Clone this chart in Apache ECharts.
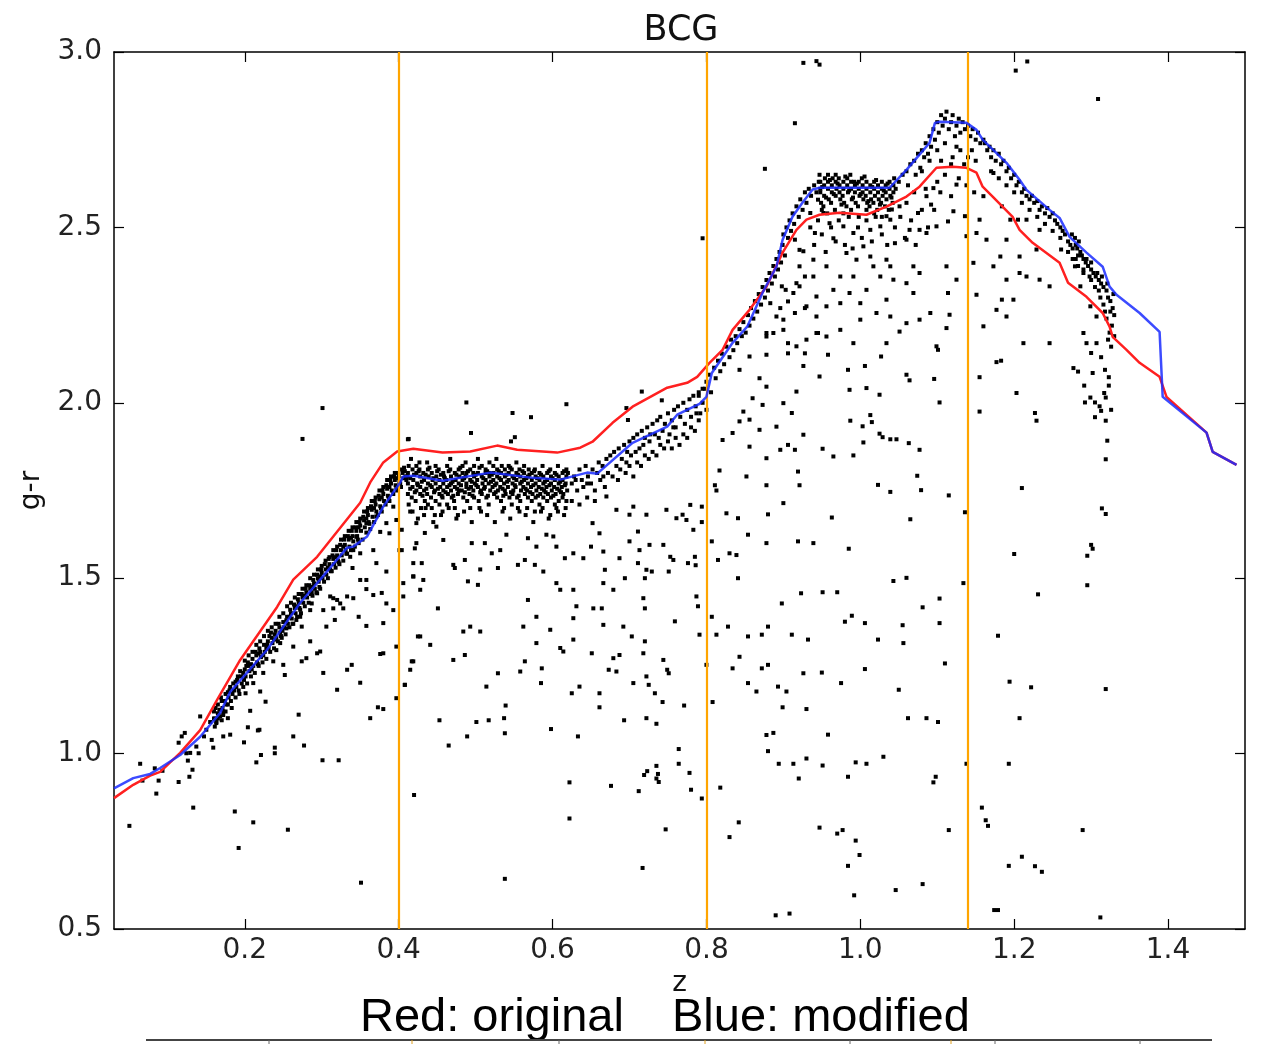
<!DOCTYPE html>
<html><head><meta charset="utf-8">
<script src="https://cdn.jsdelivr.net/npm/echarts@6/dist/echarts.min.js"></script>
<style>html,body{margin:0;padding:0;background:#fff}#c{width:1263px;height:1044px}</style>
</head><body><div id="c"></div>
<script>
const xTicks=[0.2,0.4,0.6,0.8,1.0,1.2,1.4];
const vLines=[0.4,0.8,1.14];
const redZ=[0.030,0.055,0.077,0.090,0.116,0.142,0.164,0.194,0.242,0.263,0.294,0.315,0.350,0.363,0.380,0.398,0.419,0.457,0.493,0.528,0.554,0.606,0.636,0.652,0.678,0.704,0.749,0.775,0.788,0.804,0.821,0.834,0.856,0.878,0.899,0.917,0.930,0.947,0.973,1.008,1.034,1.060,1.077,1.099,1.120,1.138,1.151,1.159,1.172,1.198,1.207,1.224,1.259,1.270,1.294,1.315,1.324,1.328,1.346,1.363,1.389,1.398,1.450,1.458,1.489];
const redGR=[0.873,0.911,0.937,0.948,1.002,1.067,1.153,1.267,1.418,1.496,1.561,1.619,1.715,1.773,1.830,1.861,1.869,1.858,1.861,1.878,1.866,1.858,1.872,1.889,1.943,1.989,2.043,2.057,2.074,2.114,2.151,2.208,2.265,2.331,2.428,2.493,2.522,2.536,2.542,2.536,2.559,2.588,2.616,2.670,2.673,2.670,2.656,2.616,2.588,2.530,2.493,2.456,2.399,2.342,2.302,2.256,2.217,2.188,2.151,2.114,2.074,2.017,1.915,1.860,1.823];
const blueZ=[0.030,0.055,0.077,0.090,0.116,0.142,0.168,0.181,0.229,0.272,0.298,0.333,0.341,0.359,0.380,0.402,0.406,0.419,0.457,0.519,0.574,0.610,0.645,0.658,0.704,0.749,0.762,0.791,0.800,0.807,0.834,0.853,0.873,0.891,0.899,0.912,0.925,0.938,0.947,1.038,1.060,1.090,1.097,1.103,1.138,1.151,1.159,1.190,1.207,1.216,1.246,1.259,1.272,1.294,1.315,1.324,1.333,1.363,1.389,1.393,1.450,1.458,1.489];
const blueGR=[0.901,0.930,0.942,0.959,0.996,1.048,1.116,1.176,1.296,1.430,1.496,1.587,1.590,1.619,1.704,1.773,1.790,1.792,1.778,1.801,1.786,1.781,1.801,1.798,1.886,1.932,1.966,1.997,2.017,2.085,2.171,2.217,2.314,2.388,2.465,2.531,2.571,2.608,2.613,2.613,2.664,2.741,2.798,2.801,2.798,2.778,2.750,2.684,2.636,2.607,2.550,2.527,2.473,2.428,2.388,2.331,2.308,2.256,2.202,2.017,1.915,1.860,1.823];

const sparseLeft=[0.050,0.794,0.064,0.971,0.067,0.923,0.083,0.958,0.085,0.886,0.088,0.923,0.093,0.951,0.114,1.031,0.114,0.919,0.118,1.049,0.122,1.059,0.124,1.001,0.126,0.980,0.128,0.934,0.129,1.002,0.132,0.954,0.133,0.846,0.137,1.020,0.140,1.001,0.142,1.106,0.147,1.049,0.150,1.068,0.157,1.039,0.159,1.017,0.161,1.077,0.163,1.087,0.168,1.106,0.172,1.049,0.178,1.101,0.181,1.054,0.187,0.835,0.192,0.731,0.199,1.032,0.204,1.075,0.207,1.122,0.211,0.804,0.215,0.975,0.217,1.066,0.219,1.068,0.221,0.996,0.227,1.148,0.239,1.017,0.239,1.001,0.256,0.783,0.263,1.049,0.270,1.111,0.277,1.023,0.301,0.981,0.322,0.981,0.351,0.632,0.363,1.101,0.373,1.132,0.380,1.127,0.420,0.882,0.155,1.090,0.160,1.100,0.165,1.115,0.170,1.095,0.175,1.120,
0.301,1.985,0.275,1.897,0.413,1.897,0.358,1.364,0.397,1.305,0.384,1.519,0.371,1.543,0.378,1.458,0.358,1.469,0.341,1.443,0.333,1.448,0.320,1.438,0.315,1.443,0.328,1.414,0.315,1.414,0.302,1.409,0.311,1.448,0.340,1.529,0.350,1.495,0.348,1.390,0.358,1.495,0.367,1.452,0.401,1.580,0.397,1.666,0.388,1.628,0.384,1.657,0.393,1.704,0.419,1.543,0.423,1.600,0.423,1.657,0.419,1.505,0.425,1.334,0.419,1.263,0.415,1.239,0.408,1.196,0.397,1.158,0.380,1.286,0.376,1.284,0.350,1.202,0.333,1.239,0.339,1.253,0.320,1.182,0.302,1.230,0.298,1.291,0.294,1.286,0.285,1.320,0.280,1.272,0.274,1.263,0.263,1.305,0.250,1.253,0.252,1.224,0.241,1.295,0.246,1.315,0.237,1.263,0.224,1.230,0.220,1.177,0.211,1.201,0.201,1.172,0.254,1.357,0.267,1.381,0.272,1.390,0.285,1.409,0.287,1.428,0.294,1.457,0.274,1.362,0.306,1.362,0.317,1.381,0.324,1.428,0.341,1.580,0.350,1.571,0.367,1.580,0.376,1.632,0.371,1.676,0.358,1.657,0.345,1.618,0.337,1.561,0.380,1.372,0.393,1.409,0.384,1.428,0.406,1.486];

const bandLow=[0.160,1.12,0.161,1.10,0.162,1.13,0.163,1.09,0.165,1.14,0.166,1.11,0.167,1.125,0.170,1.15,0.171,1.13,0.172,1.12,0.169,1.16,0.175,1.17,0.176,1.14,0.174,1.15,0.180,1.18,0.179,1.16,0.181,1.19,0.182,1.15,0.185,1.20,0.186,1.18,0.184,1.17,0.190,1.21,0.189,1.19,0.191,1.22,0.192,1.18,0.195,1.22,0.196,1.20,0.194,1.235,0.200,1.24,0.201,1.22,0.199,1.21,0.202,1.25,0.205,1.25,0.206,1.235,0.204,1.26,0.210,1.27,0.211,1.25,0.209,1.24,0.215,1.28,0.216,1.26,0.214,1.29,0.217,1.255,0.220,1.29,0.221,1.275,0.219,1.30,0.225,1.31,0.226,1.29,0.224,1.28,0.230,1.32,0.231,1.30,0.229,1.31,0.232,1.335,0.235,1.33,0.236,1.315,0.234,1.345,0.240,1.35,0.241,1.33,0.239,1.34,0.245,1.36,0.246,1.345,0.244,1.37,0.247,1.335,0.250,1.375,0.251,1.36,0.249,1.35,0.255,1.39,0.256,1.37,0.254,1.38,0.260,1.40,0.261,1.385,0.259,1.41,0.262,1.37,0.265,1.415,0.266,1.40,0.264,1.425,0.270,1.43,0.271,1.415,0.269,1.44,0.272,1.41,0.275,1.445,0.276,1.43,0.274,1.455,0.280,1.46,0.281,1.445,0.279,1.47,0.285,1.47,0.286,1.455,0.284,1.48,0.287,1.46,0.290,1.485,0.291,1.47,0.289,1.495,0.295,1.50,0.296,1.49,0.294,1.51,0.297,1.475,0.300,1.515,0.301,1.50,0.299,1.525,0.305,1.525,0.306,1.51,0.304,1.54,0.310,1.54,0.311,1.525,0.309,1.555,0.312,1.52,0.315,1.555,0.316,1.54,0.314,1.565,0.320,1.565,0.321,1.55,0.319,1.58,0.322,1.545,0.325,1.58,0.326,1.565,0.324,1.595,0.330,1.595,0.331,1.58,0.329,1.61,0.332,1.57,0.335,1.61,0.336,1.59,0.334,1.62,0.340,1.62,0.341,1.605,0.339,1.635,0.345,1.635,0.346,1.62,0.344,1.645,0.347,1.61,0.350,1.65,0.351,1.635,0.349,1.66,0.355,1.665,0.356,1.645,0.354,1.675,0.360,1.68,0.361,1.66,0.359,1.69,0.362,1.655,0.365,1.695,0.366,1.675,0.364,1.705,0.370,1.71,0.371,1.69,0.369,1.72,0.375,1.725,0.376,1.705,0.374,1.735,0.377,1.70,0.380,1.74,0.381,1.72,0.379,1.75,0.385,1.755,0.386,1.735,0.384,1.765,0.387,1.73,0.390,1.77,0.391,1.75,0.389,1.78,0.395,1.78,0.396,1.765,0.394,1.79,0.397,1.76,0.400,1.79,0.401,1.775,0.399,1.80,0.402,1.77,0.405,1.80,0.406,1.785,0.404,1.81,0.408,1.805,0.409,1.79,0.407,1.815,0.410,1.78,
0.178,1.175,0.188,1.205,0.198,1.23,0.208,1.255,0.218,1.285,0.228,1.30,0.238,1.325,0.248,1.355,0.258,1.39,0.268,1.42,0.278,1.45,0.288,1.475,0.298,1.505,0.308,1.53,0.318,1.56,0.328,1.59,0.338,1.615,0.348,1.645,0.358,1.67,0.368,1.70,0.378,1.73,0.388,1.76,0.398,1.785];

const bandLow2=[0.165,1.10,0.172,1.11,0.178,1.14,0.183,1.13,0.188,1.16,0.193,1.17,0.198,1.19,0.203,1.20,0.208,1.22,0.213,1.23,0.218,1.25,0.223,1.26,0.228,1.27,0.233,1.29,0.238,1.30,0.243,1.32,0.248,1.33,0.253,1.34,0.258,1.36,0.263,1.37,0.268,1.39,0.273,1.40,0.278,1.42,0.283,1.43,0.288,1.45,0.293,1.46,0.298,1.47,0.303,1.49,0.308,1.50,0.313,1.52,0.318,1.53,0.323,1.54,0.328,1.55,0.333,1.57,0.338,1.58,0.343,1.59,0.348,1.60,0.353,1.61,0.358,1.63,0.363,1.64,0.368,1.66,0.373,1.68,0.378,1.69,0.383,1.71,0.388,1.72,0.393,1.74,0.398,1.75,0.403,1.76,
0.200,1.265,0.210,1.29,0.220,1.32,0.230,1.35,0.240,1.37,0.250,1.40,0.260,1.43,0.270,1.455,0.280,1.48,0.290,1.51,0.300,1.535,0.310,1.56,0.320,1.59,0.330,1.62,0.340,1.645,0.350,1.67,0.360,1.70,0.370,1.73,0.380,1.76,0.390,1.79,0.395,1.80,0.385,1.78,0.375,1.75,0.365,1.72,0.355,1.69,0.345,1.66,0.335,1.635,0.325,1.61,0.315,1.58,0.305,1.55,0.295,1.525,0.285,1.50,0.275,1.47,0.265,1.445,0.255,1.42,0.245,1.39,0.235,1.36,0.225,1.335,0.215,1.31,0.205,1.28];

const bandMid=[0.412,1.80,0.412,1.77,0.412,1.74,0.413,1.82,0.413,1.71,0.411,1.79,0.418,1.81,0.418,1.76,0.417,1.73,0.419,1.78,0.418,1.69,0.416,1.84,0.423,1.80,0.423,1.75,0.424,1.77,0.422,1.72,0.423,1.82,0.428,1.79,0.428,1.74,0.427,1.81,0.429,1.70,0.428,1.76,0.427,1.83,0.433,1.78,0.433,1.75,0.432,1.80,0.434,1.72,0.433,1.68,0.438,1.81,0.438,1.77,0.437,1.74,0.439,1.79,0.438,1.71,0.437,1.83,0.443,1.76,0.443,1.80,0.442,1.73,0.444,1.78,0.443,1.70,0.448,1.82,0.448,1.77,0.447,1.75,0.449,1.79,0.448,1.72,0.447,1.68,0.453,1.78,0.453,1.74,0.452,1.81,0.454,1.76,0.453,1.71,0.458,1.80,0.458,1.77,0.457,1.73,0.459,1.79,0.458,1.75,0.457,1.69,0.463,1.82,0.463,1.76,0.462,1.78,0.464,1.74,0.463,1.71,0.468,1.79,0.468,1.75,0.467,1.81,0.469,1.73,0.468,1.77,0.467,1.84,0.473,1.80,0.473,1.76,0.472,1.72,0.474,1.78,0.473,1.70,0.478,1.81,0.478,1.77,0.477,1.74,0.479,1.79,0.478,1.75,0.477,1.68,0.483,1.78,0.483,1.82,0.482,1.75,0.484,1.73,0.483,1.80,0.488,1.80,0.488,1.76,0.487,1.79,0.489,1.72,0.488,1.77,0.487,1.83,0.493,1.81,0.493,1.78,0.492,1.74,0.494,1.76,0.493,1.70,0.498,1.79,0.498,1.82,0.497,1.75,0.499,1.77,0.498,1.73,0.497,1.80,0.503,1.80,0.503,1.76,0.502,1.78,0.504,1.72,0.503,1.84,0.508,1.82,0.508,1.79,0.507,1.75,0.509,1.77,0.508,1.74,0.507,1.69,0.513,1.81,0.513,1.78,0.512,1.76,0.514,1.73,0.513,1.80,0.518,1.80,0.518,1.83,0.517,1.77,0.519,1.75,0.518,1.79,0.517,1.71,0.523,1.82,0.523,1.78,0.522,1.76,0.524,1.74,0.523,1.80,0.528,1.81,0.528,1.79,0.527,1.77,0.529,1.75,0.528,1.73,0.527,1.84,0.533,1.80,0.533,1.78,0.532,1.76,0.534,1.82,0.533,1.72,0.538,1.79,0.538,1.81,0.537,1.77,0.539,1.74,0.538,1.75,0.537,1.70,0.543,1.80,0.543,1.78,0.542,1.76,0.544,1.73,0.543,1.82,0.548,1.79,0.548,1.77,0.547,1.81,0.549,1.75,0.548,1.74,0.547,1.71,0.553,1.80,0.553,1.78,0.552,1.76,0.554,1.73,0.553,1.83,0.558,1.79,0.558,1.77,0.557,1.81,0.559,1.75,0.558,1.72,0.557,1.69,0.563,1.78,0.563,1.80,0.562,1.76,0.564,1.74,0.563,1.82,0.568,1.79,0.568,1.77,0.567,1.75,0.569,1.81,0.568,1.73,0.567,1.70,0.573,1.80,0.573,1.78,0.572,1.76,0.574,1.74,0.573,1.72,0.578,1.79,0.578,1.77,0.577,1.81,0.579,1.75,0.578,1.73,0.577,1.69,0.583,1.78,0.583,1.80,0.582,1.76,0.584,1.74,0.583,1.71,0.588,1.79,0.588,1.77,0.587,1.82,0.589,1.75,0.588,1.73,0.587,1.70,0.593,1.78,0.593,1.80,0.592,1.76,0.594,1.74,0.593,1.72,0.598,1.79,0.598,1.77,0.597,1.81,0.599,1.75,0.598,1.73,0.597,1.68,0.603,1.78,0.603,1.80,0.602,1.76,0.604,1.74,0.603,1.71,0.608,1.79,0.608,1.77,0.607,1.82,0.609,1.75,0.608,1.72,0.607,1.69,0.613,1.78,0.613,1.80,0.612,1.76,0.614,1.74,0.613,1.73,0.618,1.79,0.618,1.81,0.617,1.77,0.619,1.75,0.618,1.72,0.617,1.70];

const bandMid2=[0.415,1.785,0.415,1.755,0.420,1.795,0.421,1.745,0.425,1.765,0.426,1.805,0.430,1.775,0.431,1.735,0.435,1.795,0.436,1.755,0.440,1.815,0.441,1.765,0.445,1.785,0.446,1.745,0.450,1.805,0.451,1.755,0.455,1.795,0.456,1.735,0.460,1.785,0.461,1.745,0.465,1.805,0.466,1.765,0.470,1.775,0.471,1.735,0.475,1.795,0.476,1.755,0.480,1.815,0.481,1.765,0.485,1.785,0.486,1.745,0.490,1.805,0.491,1.755,0.495,1.775,0.496,1.735,0.500,1.795,0.501,1.765,0.505,1.815,0.506,1.745,0.510,1.785,0.511,1.755,0.515,1.805,0.516,1.735,0.520,1.775,0.521,1.795,0.525,1.765,0.526,1.745,0.530,1.805,0.531,1.785,0.535,1.755,0.536,1.735,0.540,1.795,0.541,1.775,0.545,1.815,0.546,1.745,0.550,1.785,0.551,1.765,0.555,1.795,0.556,1.735,0.560,1.775,0.561,1.805,0.565,1.755,0.566,1.785,0.570,1.795,0.571,1.745,0.575,1.765,0.576,1.805,0.580,1.785,0.581,1.735,0.585,1.795,0.586,1.755,0.590,1.775,0.591,1.745,0.595,1.805,0.596,1.765,0.600,1.785,0.601,1.735,0.605,1.795,0.606,1.755,0.610,1.775,0.611,1.745,0.615,1.805,0.616,1.765,
0.415,1.69,0.425,1.67,0.435,1.70,0.445,1.66,0.455,1.68,0.465,1.70,0.475,1.67,0.485,1.69,0.495,1.66,0.505,1.70,0.515,1.68,0.525,1.66,0.535,1.69,0.545,1.67,0.555,1.70,0.565,1.68,0.575,1.66,0.585,1.69,0.595,1.67,0.605,1.70,0.615,1.68,0.625,1.72,0.635,1.71,0.645,1.73,0.655,1.72];

const bandRise=[0.620,1.80,0.625,1.77,0.628,1.79,0.632,1.75,0.635,1.81,0.638,1.78,0.640,1.76,0.643,1.82,0.646,1.79,0.650,1.77,0.652,1.81,0.655,1.75,0.658,1.80,0.660,1.83,0.662,1.78,0.665,1.82,0.668,1.76,0.670,1.84,0.672,1.80,0.675,1.85,0.678,1.79,0.680,1.86,0.683,1.82,0.686,1.87,0.688,1.81,0.690,1.84,0.693,1.88,0.696,1.83,0.700,1.89,0.702,1.85,0.705,1.90,0.708,1.86,0.710,1.91,0.713,1.87,0.716,1.92,0.718,1.88,0.720,1.90,0.723,1.93,0.726,1.89,0.730,1.94,0.733,1.91,0.736,1.95,0.738,1.90,0.740,1.96,0.743,1.92,0.746,1.94,0.750,1.97,0.752,1.91,0.755,1.95,0.758,1.98,0.760,1.93,0.763,1.99,0.766,1.96,0.770,2.00,0.772,1.94,0.775,1.98,0.778,2.01,0.780,1.96,0.783,2.02,0.786,1.99,0.790,2.03,0.792,1.97,0.795,2.00,0.798,2.04,0.800,1.98,0.700,1.82,0.710,1.83,0.720,1.85,0.730,1.86,0.740,1.88,0.750,1.89,0.760,1.90,0.770,1.91,0.780,1.93,0.790,1.95,0.685,1.78,0.695,1.80,0.705,1.79,0.715,1.82,0.725,1.84,0.735,1.85,0.745,1.87,0.755,1.87,0.765,1.88,0.775,1.90,0.785,1.92,0.630,1.78,0.645,1.77,0.666,1.79,0.697,1.86,0.727,1.91,0.757,1.93,0.787,1.97,
0.790,2.02,0.795,2.04,0.800,2.06,0.803,2.08,0.806,2.03,0.810,2.10,0.812,2.07,0.815,2.12,0.818,2.09,0.820,2.14,0.823,2.11,0.826,2.16,0.830,2.13,0.832,2.18,0.835,2.15,0.838,2.19,0.840,2.17,0.843,2.21,0.846,2.19,0.848,2.23,0.851,2.20,0.854,2.25,0.856,2.22,0.858,2.27,0.861,2.24,0.863,2.29,0.866,2.26,0.868,2.31,0.871,2.28,0.873,2.33,0.876,2.30,0.878,2.35,0.880,2.32,0.882,2.37,0.885,2.34,0.887,2.39,0.889,2.36,0.891,2.41,0.893,2.38,0.895,2.43,0.897,2.40,0.899,2.45,0.900,2.48,0.902,2.42,0.904,2.50,0.906,2.47,0.908,2.52,0.910,2.49,0.912,2.54,0.914,2.51,0.917,2.56,0.920,2.53,0.922,2.58,0.925,2.55,0.928,2.60,0.930,2.57,0.933,2.61,0.936,2.59,0.940,2.62,0.943,2.60,0.946,2.63,0.948,2.61];

const bandTop=[0.948,2.63,0.948,2.60,0.949,2.57,0.947,2.65,0.950,2.55,0.953,2.62,0.953,2.59,0.954,2.64,0.952,2.56,0.958,2.63,0.958,2.61,0.959,2.58,0.957,2.54,0.958,2.65,0.963,2.62,0.963,2.60,0.964,2.64,0.962,2.57,0.968,2.63,0.968,2.59,0.969,2.61,0.967,2.55,0.968,2.65,0.973,2.62,0.973,2.60,0.974,2.58,0.972,2.64,0.978,2.63,0.978,2.61,0.979,2.57,0.977,2.59,0.978,2.54,0.983,2.62,0.983,2.64,0.984,2.60,0.982,2.56,0.988,2.63,0.988,2.61,0.989,2.58,0.987,2.65,0.988,2.55,0.993,2.62,0.993,2.60,0.994,2.57,0.992,2.63,0.998,2.61,0.998,2.63,0.999,2.59,0.997,2.56,0.998,2.53,1.003,2.62,1.003,2.60,1.004,2.58,1.002,2.64,1.008,2.63,1.008,2.61,1.009,2.57,1.007,2.59,1.008,2.55,1.013,2.62,1.013,2.60,1.014,2.58,1.012,2.56,1.018,2.61,1.018,2.63,1.019,2.59,1.017,2.57,1.018,2.54,1.023,2.62,1.023,2.60,1.024,2.58,1.022,2.55,1.028,2.61,1.028,2.63,1.029,2.59,1.027,2.57,1.028,2.53,1.033,2.62,1.033,2.60,1.034,2.58,1.032,2.56,1.038,2.61,1.038,2.63,1.039,2.59,1.037,2.55,1.043,2.62,1.043,2.60,1.044,2.64,1.042,2.57,
0.9505,2.615,0.9555,2.585,0.9605,2.635,0.9655,2.595,0.9705,2.625,0.9755,2.565,0.9805,2.645,0.9855,2.605,0.9905,2.585,0.9955,2.625,1.0005,2.595,1.0055,2.645,1.0105,2.575,1.0155,2.615,1.0205,2.635,1.0255,2.565,1.0305,2.605,1.0355,2.625,1.0405,2.585,1.046,2.61,
1.050,2.63,1.055,2.65,1.060,2.66,1.062,2.62,1.065,2.68,1.070,2.69,1.072,2.65,1.075,2.71,1.078,2.67,1.080,2.72,1.083,2.70,1.085,2.74,1.088,2.71,1.090,2.76,1.092,2.73,1.095,2.78,1.097,2.75,1.100,2.80,1.102,2.77,1.105,2.82,1.107,2.79,1.110,2.81,1.112,2.83,1.115,2.78,1.118,2.80,1.120,2.82,1.123,2.76,1.125,2.79,1.128,2.81,1.130,2.77,1.133,2.80,1.136,2.78,1.140,2.79,1.143,2.76,1.146,2.78,1.150,2.75,1.153,2.77,1.156,2.74,1.160,2.75,1.100,2.72,1.110,2.74,1.120,2.70,1.130,2.72,1.140,2.70,1.150,2.69,1.105,2.69,1.125,2.73,1.135,2.68,1.145,2.72,1.090,2.69,1.080,2.66];

const bandTop2=[0.935,2.50,0.940,2.45,0.945,2.52,0.950,2.48,0.955,2.43,0.962,2.50,0.968,2.46,0.972,2.52,0.980,2.45,0.985,2.53,0.990,2.44,0.997,2.50,1.002,2.47,1.008,2.52,1.015,2.46,1.020,2.53,1.028,2.48,1.035,2.45,1.045,2.50,1.052,2.53,1.058,2.47,1.066,2.52,1.072,2.45,1.080,2.55,1.088,2.50,1.096,2.55,1.104,2.60,1.110,2.65,1.118,2.68,1.128,2.64,1.138,2.62,1.148,2.60,1.100,2.63,1.085,2.61,1.070,2.60];

const bandFall=[1.162,2.74,1.165,2.72,1.168,2.73,1.170,2.70,1.173,2.72,1.176,2.69,1.180,2.71,1.183,2.68,1.186,2.69,1.190,2.66,1.193,2.67,1.196,2.64,1.200,2.65,1.203,2.62,1.206,2.63,1.210,2.60,1.213,2.61,1.216,2.59,1.220,2.58,1.223,2.59,1.226,2.57,1.230,2.575,1.233,2.55,1.236,2.56,1.240,2.54,1.243,2.555,1.246,2.53,1.250,2.54,1.253,2.52,1.256,2.51,1.260,2.50,1.263,2.49,1.266,2.48,1.270,2.46,1.273,2.45,1.276,2.44,1.280,2.45,1.283,2.42,1.286,2.43,1.290,2.41,1.293,2.40,1.296,2.39,1.300,2.38,1.303,2.37,1.306,2.36,1.310,2.35,1.313,2.34,1.316,2.33,1.320,2.32,1.322,2.30,1.325,2.29,1.328,2.27,1.330,2.25,1.327,2.22,1.324,2.20,1.322,2.18,1.326,2.16,1.320,2.24,1.318,2.26,1.316,2.28,1.312,2.30,1.305,2.33,1.298,2.36,1.290,2.37,1.283,2.39,1.276,2.41,1.284,2.46,1.279,2.47,1.275,2.48,1.282,2.44,1.288,2.42,1.294,2.41,1.300,2.40,1.308,2.37,1.314,2.36,1.321,2.34,1.329,2.31,1.325,2.26,1.330,2.19,
1.170,2.66,1.180,2.64,1.190,2.62,1.200,2.60,1.210,2.57,1.220,2.55,1.230,2.53,1.240,2.51,1.250,2.49,1.260,2.47,1.270,2.43,1.280,2.41,1.290,2.38,1.300,2.35,1.310,2.32];

const sparseMid=[0.488,2.001,0.618,1.996,0.548,1.971,0.572,1.959,0.412,1.896,0.494,1.914,0.551,1.902,0.546,1.890,0.716,2.032,0.696,1.985,0.742,2.007,0.698,1.951,0.917,2.032,0.878,2.046,0.926,2.105,0.928,2.141,0.906,2.141,0.878,2.137,0.856,2.132,0.869,2.070,0.843,2.094,0.860,2.013,0.873,1.994,0.900,1.999,0.911,1.971,0.869,1.923,0.848,1.975,0.843,1.947,0.856,1.952,0.891,1.932,0.834,1.914,0.821,1.894,0.856,1.875,0.852,1.790,0.878,1.842,0.896,1.866,0.906,1.880,0.915,1.866,0.926,1.909,0.919,1.804,0.921,1.765,0.878,1.765,0.880,1.682,0.900,1.714,0.939,1.600,0.919,1.605,0.878,1.600,0.854,1.624,0.841,1.500,0.830,1.571,0.815,1.552,0.807,1.605,0.811,1.765,0.813,1.750,0.817,1.807,0.826,1.685,0.841,1.671,0.839,1.566,0.923,1.457,0.898,1.428,0.880,1.362,0.872,1.339,0.854,1.334,0.911,1.339,0.932,1.325,0.880,1.253,0.872,1.243,0.926,1.229,0.904,1.177,0.893,1.191,0.854,1.201,0.865,1.177,0.843,1.276,0.834,1.243,0.828,1.362,0.813,1.339,0.807,1.390,0.800,1.253,0.791,1.339,0.789,1.420,0.787,1.448,0.786,1.537,0.776,1.543,0.759,1.377,0.757,1.552,0.751,1.519,0.744,1.267,0.749,1.239,0.751,1.229,0.733,1.172,0.722,1.220,0.718,1.286,0.720,1.320,0.729,1.519,0.722,1.524,0.720,1.500,0.718,1.443,0.720,1.414,0.711,1.543,0.713,1.580,0.700,1.605,0.711,1.633,0.726,1.595,0.744,1.595,0.753,1.561,0.785,1.561,0.783,1.638,0.779,1.709,0.794,1.660,0.794,1.704,0.774,1.666,0.769,1.681,0.761,1.671,0.748,1.695,0.722,1.681,0.700,1.681,0.705,1.704,0.683,1.695,0.670,1.733,0.661,1.628,0.650,1.590,0.652,1.657,0.666,1.576,0.640,1.557,0.627,1.571,0.616,1.557,0.605,1.590,0.601,1.619,0.592,1.624,0.579,1.590,0.568,1.614,0.564,1.552,0.577,1.538,0.555,1.538,0.540,1.624,0.532,1.580,0.521,1.571,0.506,1.525,0.495,1.600,0.486,1.552,0.471,1.538,0.473,1.529,0.458,1.609,0.449,1.647,0.434,1.629,0.430,1.543,0.419,1.505,0.432,1.495,0.428,1.467,0.404,1.638,0.404,1.580,0.421,1.585,0.406,1.448,0.451,1.414,0.490,1.491,0.503,1.481,0.529,1.529,0.512,1.600,0.588,1.519,0.605,1.486,0.610,1.467,0.627,1.467,0.631,1.420,0.627,1.386,0.653,1.414,0.664,1.414,0.666,1.367,0.666,1.486,0.668,1.524,0.687,1.557,0.694,1.500,0.679,1.467,0.692,1.362,0.703,1.334,0.687,1.281,0.679,1.272,0.673,1.239,0.683,1.234,0.705,1.201,0.725,1.196,0.661,1.172,0.651,1.286,0.635,1.191,0.625,1.172,0.614,1.291,0.610,1.301,0.627,1.325,0.597,1.353,0.579,1.390,0.568,1.438,0.564,1.263,0.558,1.234,0.586,1.243,0.585,1.201,0.579,1.315,0.562,1.362,0.529,1.229,0.514,1.191,0.506,1.348,0.493,1.362,0.484,1.348,0.471,1.267,0.486,1.281,0.441,1.310,0.428,1.334,0.417,1.263,0.408,1.196];

const sparseLow=[0.539,1.137,0.453,1.095,0.465,1.023,0.489,1.049,0.501,1.090,0.517,1.095,0.537,1.101,0.538,1.058,0.598,1.070,0.633,1.049,0.661,1.132,0.693,1.095,0.722,1.101,0.735,1.085,0.743,1.147,0.771,1.137,0.764,1.013,0.764,0.971,0.778,0.945,0.780,0.897,0.794,0.872,0.735,0.965,0.723,0.950,0.719,0.939,0.737,0.942,0.735,0.929,0.738,0.919,0.712,0.893,0.676,0.908,0.622,0.918,0.622,0.815,0.747,0.784,0.717,0.674,0.538,0.643,0.818,0.903,0.842,0.804,0.830,0.762,0.878,1.053,0.887,1.059,0.880,1.007,0.894,0.971,0.913,0.971,0.930,0.986,0.920,0.929,0.899,1.132,0.930,1.127,0.808,1.147,0.890,0.539,0.908,0.544,
1.062,1.101,1.086,1.101,1.101,1.090,1.207,1.101,0.958,1.054,0.951,0.966,0.994,0.975,1.008,0.971,1.030,0.991,0.984,0.934,1.095,0.918,1.098,0.934,1.138,0.971,1.193,0.971,1.158,0.846,1.163,0.810,1.166,0.794,1.289,0.782,1.115,0.782,0.947,0.789,0.970,0.772,0.977,0.782,0.994,0.752,0.999,0.711,0.984,0.680,1.210,0.706,1.193,0.680,1.227,0.679,1.236,0.663,1.046,0.611,1.081,0.628,0.992,0.596,1.174,0.554,1.179,0.554,1.312,0.533];

const sparseRight=[0.926,2.969,0.943,2.974,0.915,2.797,0.876,2.667,0.795,2.469,0.947,2.964,1.202,2.947,1.217,2.973,1.309,2.866,
0.921,2.436,0.928,2.360,0.917,2.341,0.943,2.199,0.930,2.275,0.900,2.237,0.906,2.170,0.915,2.256,0.887,2.199,0.943,2.303,0.939,2.408,0.935,2.541,0.941,2.484,0.903,2.322,0.891,2.246,0.878,2.199,0.921,2.332,0.945,2.579,0.915,2.465,0.926,2.432,0.921,2.389,0.939,2.360,0.913,2.313,0.928,2.270,0.898,2.332,0.906,2.289,0.896,2.270,0.883,2.284,0.878,2.189,0.900,2.208,0.917,2.161,0.930,2.180,0.943,2.246,0.945,2.199,
0.952,2.541,0.960,2.512,0.978,2.503,0.991,2.484,0.965,2.469,1.013,2.493,1.026,2.503,1.004,2.446,1.034,2.532,1.041,2.551,1.051,2.560,1.060,2.570,1.075,2.541,1.086,2.589,1.092,2.565,1.039,2.522,1.064,2.493,1.077,2.493,1.086,2.484,1.099,2.503,1.114,2.517,1.121,2.546,1.118,2.589,1.125,2.622,1.095,2.612,1.060,2.465,1.045,2.455,1.034,2.408,1.013,2.417,0.995,2.408,0.982,2.427,0.956,2.389,0.974,2.360,0.991,2.360,1.017,2.389,1.039,2.389,1.069,2.389,1.077,2.370,1.060,2.341,1.043,2.351,1.026,2.360,1.008,2.322,0.986,2.313,0.965,2.322,0.956,2.275,0.974,2.284,1.000,2.284,1.034,2.294,1.069,2.313,1.091,2.256,1.112,2.389,1.114,2.313,1.138,2.475,1.136,2.532,1.147,2.399,1.151,2.308,1.125,2.351,1.116,2.251,1.112,2.213,1.077,2.237,1.060,2.227,1.039,2.246,1.021,2.256,1.000,2.237,0.974,2.208,0.956,2.189,0.991,2.170,1.034,2.170,1.051,2.203,1.099,2.161,
1.155,2.522,1.164,2.465,1.151,2.484,1.160,2.589,1.173,2.655,1.184,2.560,1.190,2.465,1.195,2.522,1.173,2.389,1.182,2.417,1.190,2.351,1.207,2.370,1.216,2.360,1.233,2.351,1.246,2.332,1.229,2.437,1.207,2.417,1.205,2.522,1.216,2.522,1.233,2.493,1.184,2.294,1.177,2.265,1.199,2.294,1.160,2.218,1.190,2.246,1.212,2.170,1.246,2.170,1.261,2.437,1.279,2.389,1.286,2.332,1.290,2.199,1.294,2.170,1.307,2.170,1.299,2.275,1.307,2.246,
0.958,2.137,0.947,2.075,0.984,2.094,1.006,2.105,1.027,2.132,0.986,2.037,1.008,2.042,1.025,2.023,1.060,2.080,1.064,2.064,1.096,2.068,1.103,2.001,1.101,2.151,1.155,2.073,1.155,1.975,1.177,2.116,1.183,2.120,1.203,2.028,1.227,1.971,1.229,1.949,1.277,2.099,1.283,2.089,1.300,2.142,1.313,2.130,1.318,2.094,1.323,2.073,1.302,2.085,1.291,2.049,1.323,2.049,1.317,2.028,1.299,2.015,1.319,2.015,1.292,2.001,1.305,2.001,1.311,1.990,1.313,1.977,1.326,1.980,1.305,1.959,1.319,1.949,1.321,1.892,1.319,1.839,0.951,1.869,0.965,1.847,0.991,1.850,1.004,1.887,1.003,1.933,0.987,1.949,1.013,1.965,1.015,1.945,1.025,1.912,1.029,1.902,1.039,1.896,1.047,1.896,1.063,1.885,1.077,1.866,1.074,1.792,1.023,1.766,1.039,1.746,1.079,1.751,1.115,1.736,1.136,1.688,0.963,1.673,1.065,1.668,1.210,1.757,1.314,1.699,1.319,1.683,0.985,1.584,1.300,1.595,1.302,1.584,1.295,1.564,1.200,1.569,1.043,1.492,1.060,1.501,1.134,1.486,0.951,1.460,0.970,1.460,1.231,1.454,1.295,1.480,1.103,1.442,1.081,1.417,0.989,1.393,0.980,1.376,1.006,1.372,1.055,1.366,1.103,1.372,1.023,1.325,1.056,1.315,1.179,1.336,1.110,1.257,1.006,1.241,0.950,1.231,0.975,1.201,1.050,1.182,1.194,1.205,1.222,1.189,1.319,1.184];

function pairs(a){const o=[];for(let i=0;i+1<a.length;i+=2)o.push([a[i],a[i+1]]);return o;}
function zip(x,y){return x.map((v,i)=>[v,y[i]]);}
const allPts=[].concat(pairs(sparseLeft),pairs(bandLow),pairs(bandLow2),pairs(bandMid),pairs(bandMid2),pairs(bandRise),pairs(bandTop),pairs(bandTop2),pairs(bandFall),pairs(sparseMid),pairs(sparseLow),pairs(sparseRight));

const FONT='DejaVu Sans';
const chart=echarts.init(document.getElementById('c'),null,{renderer:'canvas'});
const axisLine={show:true,lineStyle:{color:'#000',width:1.5}};
const tickStyle={inside:true,length:10,lineStyle:{color:'#000',width:1.2}};
chart.setOption({
  animation:false,
  backgroundColor:'#fff',
  title:{text:'BCG',left:676,top:8,textAlign:'center',textStyle:{fontFamily:FONT,fontSize:35,fontWeight:'normal',color:'#111'}},
  grid:{left:114,top:52,width:1131,height:877,containLabel:false},
  xAxis:[
    {type:'value',min:0.03,max:1.5,position:'bottom',name:'z',nameLocation:'middle',nameGap:34,
     nameTextStyle:{fontFamily:FONT,fontSize:28,color:'#111'},
     axisLine:axisLine,splitLine:{show:false},
     axisTick:Object.assign({customValues:xTicks},tickStyle),
     axisLabel:{customValues:xTicks,margin:8,fontFamily:FONT,fontSize:28,color:'#222',formatter:v=>v.toFixed(1)}},
    {type:'value',min:0.03,max:1.5,position:'top',axisLine:axisLine,splitLine:{show:false},
     axisTick:Object.assign({customValues:xTicks},tickStyle),axisLabel:{show:false}}
  ],
  yAxis:[
    {type:'value',min:0.5,max:3.0,interval:0.5,position:'left',name:'g-r',nameLocation:'middle',nameGap:68,nameRotate:90,
     nameTextStyle:{fontFamily:FONT,fontSize:28,color:'#111'},
     axisLine:axisLine,splitLine:{show:false},axisTick:tickStyle,
     axisLabel:{margin:12,fontFamily:FONT,fontSize:28,color:'#222',formatter:v=>v.toFixed(1)}},
    {type:'value',min:0.5,max:3.0,interval:0.5,position:'right',axisLine:axisLine,splitLine:{show:false},
     axisTick:tickStyle,axisLabel:{show:false}}
  ],
  series:[
    {type:'scatter',data:allPts,symbol:'rect',symbolSize:4,itemStyle:{color:'#000',opacity:1},silent:true,z:2,
     markLine:{silent:true,symbol:['none','none'],label:{show:false},
       lineStyle:{color:'#ffa500',width:2.2,type:'solid'},data:vLines.map(v=>({xAxis:v}))}},
    {type:'line',data:zip(redZ,redGR),showSymbol:false,symbol:'none',lineStyle:{color:'#ff2020',width:2.5},silent:true,z:4},
    {type:'line',data:zip(blueZ,blueGR),showSymbol:false,symbol:'none',lineStyle:{color:'#1a2cff',width:2.5,opacity:0.85},silent:true,z:5}
  ],
  graphic:[
    {type:'text',left:360,top:995,style:{text:'Red: original',font:'47px "Liberation Sans", Arial, sans-serif',fill:'#000'}},
    {type:'text',left:672,top:995,style:{text:'Blue: modified',font:'47px "Liberation Sans", Arial, sans-serif',fill:'#000'}},
    {type:'line',shape:{x1:146,y1:1040,x2:1212,y2:1040},style:{stroke:'#444',lineWidth:2}},
    {type:'line',shape:{x1:269,y1:1040,x2:269,y2:1044},style:{stroke:'#666',lineWidth:1}},
    {type:'line',shape:{x1:412,y1:1040,x2:412,y2:1044},style:{stroke:'#e0a020',lineWidth:1}},
    {type:'line',shape:{x1:559,y1:1040,x2:559,y2:1044},style:{stroke:'#666',lineWidth:1}},
    {type:'line',shape:{x1:705,y1:1040,x2:705,y2:1044},style:{stroke:'#e0a020',lineWidth:1}},
    {type:'line',shape:{x1:850,y1:1040,x2:850,y2:1044},style:{stroke:'#666',lineWidth:1}},
    {type:'line',shape:{x1:951,y1:1040,x2:951,y2:1044},style:{stroke:'#e0a020',lineWidth:1}},
    {type:'line',shape:{x1:995,y1:1040,x2:995,y2:1044},style:{stroke:'#666',lineWidth:1}},
    {type:'line',shape:{x1:1140,y1:1040,x2:1140,y2:1044},style:{stroke:'#666',lineWidth:1}}
  ]
});
</script></body></html>
